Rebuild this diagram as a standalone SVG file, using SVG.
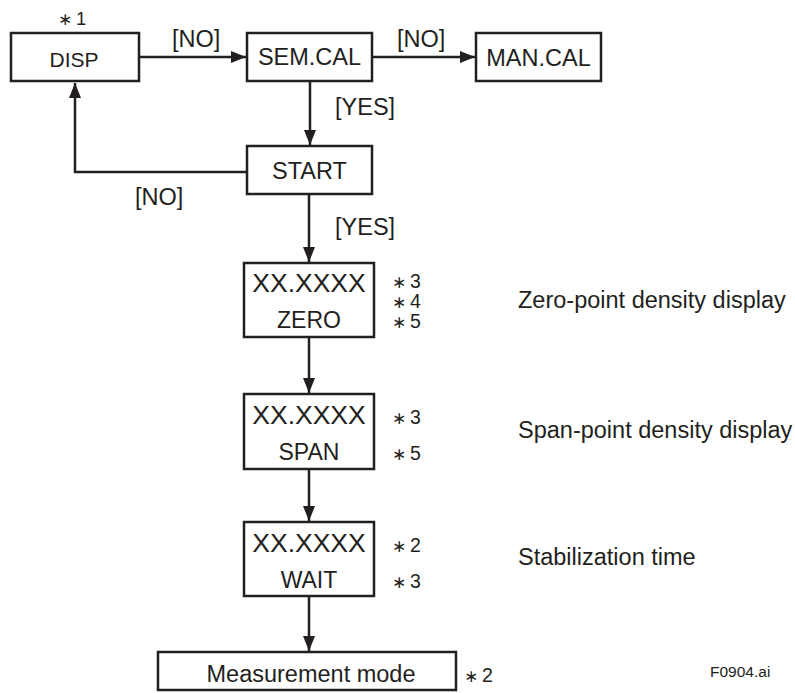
<svg xmlns="http://www.w3.org/2000/svg" width="795" height="693" viewBox="0 0 795 693">
<style>
.box{fill:#fff;stroke:#231f20;stroke-width:2.5}
.t{font-family:"Liberation Sans",Arial,sans-serif;fill:#231f20}
.c{text-anchor:middle}
.l{font-size:23.5px}
.x{font-size:26.5px}
.w{font-size:23px}
.n{font-size:19.5px}
.a{font-family:"DejaVu Sans",sans-serif;font-size:17px;fill:#231f20}
.line{fill:none;stroke:#231f20;stroke-width:2.5}
</style>
<defs>
<marker id="ah" markerUnits="userSpaceOnUse" markerWidth="16" markerHeight="12" refX="15" refY="6" orient="auto">
<path d="M0,0 L15,6 L0,12 Z" fill="#231f20"/>
</marker>
</defs>
<rect width="795" height="693" fill="#fff"/>
<g id="connectors">
<line class="line" x1="140" y1="57" x2="246" y2="57" marker-end="url(#ah)"/>
<line class="line" x1="372" y1="57" x2="475" y2="57" marker-end="url(#ah)"/>
<line class="line" x1="310" y1="81" x2="310" y2="145" marker-end="url(#ah)"/>
<polyline class="line" points="247,172 75,172 75,83" marker-end="url(#ah)"/>
<line class="line" x1="309" y1="194" x2="309" y2="262" marker-end="url(#ah)"/>
<line class="line" x1="309" y1="337" x2="309" y2="393" marker-end="url(#ah)"/>
<line class="line" x1="309" y1="469" x2="309" y2="521" marker-end="url(#ah)"/>
<line class="line" x1="309" y1="596" x2="309" y2="651" marker-end="url(#ah)"/>
<text class="t l" x="172" y="47">[NO]</text>
<text class="t l" x="397" y="47">[NO]</text>
<text class="t l" x="335" y="115">[YES]</text>
<text class="t l" x="135" y="205">[NO]</text>
<text class="t l" x="335" y="235">[YES]</text>
</g>
<g id="disp">
<rect class="box" x="11" y="33" width="128" height="48"/>
<text class="t c" x="74" y="67" font-size="21">DISP</text>
<text class="a" x="58" y="25">∗</text>
<text class="t" x="76" y="25" font-size="18.5">1</text>
</g>
<g id="semcal">
<rect class="box" x="247" y="33" width="125" height="48"/>
<text class="t c l" x="309.5" y="65">SEM.CAL</text>
</g>
<g id="mancal">
<rect class="box" x="476" y="33" width="125" height="48"/>
<text class="t c l" x="538.5" y="66">MAN.CAL</text>
</g>
<g id="start">
<rect class="box" x="247" y="146" width="125" height="48"/>
<text class="t c l" x="309.5" y="179">START</text>
</g>
<g id="zero">
<rect class="box" x="244" y="263" width="130" height="74"/>
<text class="t c x" x="309" y="292">XX.XXXX</text>
<text class="t c w" x="309" y="328">ZERO</text>
<text class="a" x="392" y="288">∗</text><text class="t n" x="410" y="288">3</text>
<text class="a" x="392" y="308">∗</text><text class="t n" x="410" y="308">4</text>
<text class="a" x="392" y="328">∗</text><text class="t n" x="410" y="328">5</text>
<text class="t l" x="518" y="308">Zero-point density display</text>
</g>
<g id="span">
<rect class="box" x="244" y="394" width="130" height="75"/>
<text class="t c x" x="309" y="424">XX.XXXX</text>
<text class="t c w" x="309" y="460">SPAN</text>
<text class="a" x="392" y="424">∗</text><text class="t n" x="410" y="424">3</text>
<text class="a" x="392" y="460">∗</text><text class="t n" x="410" y="460">5</text>
<text class="t l" x="518" y="438">Span-point density display</text>
</g>
<g id="wait">
<rect class="box" x="244" y="522" width="130" height="74"/>
<text class="t c x" x="309" y="552">XX.XXXX</text>
<text class="t c w" x="309" y="588">WAIT</text>
<text class="a" x="392" y="552">∗</text><text class="t n" x="410" y="552">2</text>
<text class="a" x="392" y="588">∗</text><text class="t n" x="410" y="588">3</text>
<text class="t l" x="518" y="565">Stabilization time</text>
</g>
<g id="measurement">
<rect class="box" x="158" y="652" width="298" height="38"/>
<text class="t c l" x="311" y="682">Measurement mode</text>
<text class="a" x="464" y="682">∗</text><text class="t n" x="482" y="682">2</text>
</g>
<text class="t" x="710" y="677" font-size="15.5">F0904.ai</text>
</svg>
